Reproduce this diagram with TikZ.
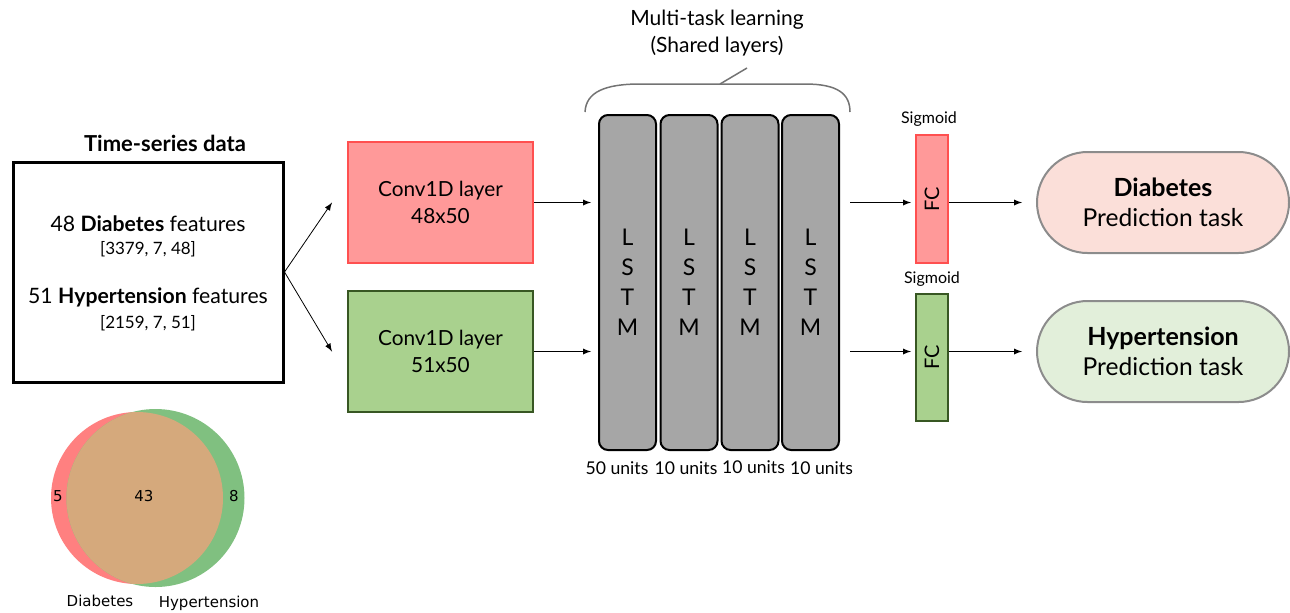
\documentclass[tikz,border=0pt]{standalone}
\usepackage{fontspec}
\setmainfont{Lato}
\newfontfamily\vennfont{DejaVu Sans}
\usetikzlibrary{arrows,positioning,shapes.misc}

\definecolor{convred}{HTML}{FF9999}
\definecolor{convredline}{HTML}{FF5050}
\definecolor{convgreen}{HTML}{A9D18E}
\definecolor{convgreenline}{HTML}{385723}
\definecolor{pillred}{HTML}{FBDFD9}
\definecolor{pillgreen}{HTML}{E2EFDA}
\definecolor{lstmgray}{HTML}{A6A6A6}
\definecolor{vennred}{HTML}{FF8080}
\definecolor{venngreen}{HTML}{80C080}
\definecolor{vennmix}{HTML}{D5A97C}

\tikzset{
  conv/.style={draw,line width=1pt,minimum width=92.5pt,minimum height=60.5pt,inner sep=0pt,align=center,font=\fontsize{10.4}{13.5}\selectfont},
  lstm/.style={draw,fill=lstmgray,line width=1pt,rounded corners=4.5pt,minimum width=28.5pt,minimum height=167.5pt,inner sep=0pt,align=center,font=\fontsize{11.5}{15}\selectfont},
  fc/.style={draw,line width=1pt,minimum width=16pt,inner sep=0pt,font=\fontsize{10}{11}\selectfont},
  task/.style={draw=gray!90,line width=1pt,rounded rectangle,minimum width=126pt,minimum height=50.5pt,inner sep=0pt,align=center,font=\fontsize{12.3}{15}\selectfont},
  lbl/.style={inner sep=0pt,font=\fontsize{8}{9}\selectfont},
  units/.style={inner sep=0pt,font=\fontsize{8.8}{10}\selectfont},
}

\begin{document}
\begin{tikzpicture}[x=0.5pt,y=-0.5pt]
  \useasboundingbox (0,0) rectangle (1290,612);

  % input data
  \node[font=\bfseries\fontsize{11}{12}\selectfont] (title) at (165,143) {Time-series data};
  \node[draw,line width=1.5pt,minimum width=135pt,minimum height=110pt,inner sep=0pt] (data) at (148,272) {};
  \node[font=\fontsize{10.6}{12}\selectfont] (data-1) at (148,224) {48 \textbf{Diabetes} features};
  \node[font=\fontsize{8.5}{10}\selectfont] (dim-1) at (148,249) {[3379, 7, 48]};
  \node[font=\fontsize{10.6}{12}\selectfont] (data-2) at (148,297) {51 \textbf{Hypertension} features};
  \node[font=\fontsize{8.5}{10}\selectfont] (dim-2) at (148,323) {[2159, 7, 51]};

  % venn diagram
  \fill[vennred] (137,498) circle (43pt);
  \fill[venngreen] (155.5,498) circle (44.5pt);
  \begin{scope}
    \clip (137,498) circle (43pt);
    \fill[vennmix] (155.5,498) circle (44.5pt);
  \end{scope}
  \node[font=\vennfont\fontsize{7.5}{8}\selectfont] (v-1) at (58,496) {5};
  \node[font=\vennfont\fontsize{7.5}{8}\selectfont] (v-2) at (144,496) {43};
  \node[font=\vennfont\fontsize{7.5}{8}\selectfont] (v-3) at (234,496) {8};
  \node[font=\vennfont\fontsize{7.5}{9}\selectfont] (v-4) at (100,601) {Diabetes};
  \node[font=\vennfont\fontsize{7.5}{9}\selectfont] (v-5) at (209,603) {Hypertension};

  % conv layers
  \node[conv,fill=convred,draw=convredline] (conv-1) at (440.5,202.5) {Conv1D layer\\48x50};
  \node[conv,fill=convgreen,draw=convgreenline] (conv-2) at (440.5,351.5) {Conv1D layer\\51x50};
  \draw[-latex] (data.east) -- ([xshift=-7.5pt]conv-1.west);
  \draw[-latex] (data.east) -- ([xshift=-7.5pt]conv-2.west);

  % shared lstm layers
  \node[lstm] (lstm-1) at (627.5,282.5) {L\\S\\T\\M};
  \node[lstm] (lstm-2) at (689,282.5) {L\\S\\T\\M};
  \node[lstm] (lstm-3) at (750,282.5) {L\\S\\T\\M};
  \node[lstm] (lstm-4) at (810.5,282.5) {L\\S\\T\\M};
  \node[units] (u-1) at (617,468) {50 units};
  \node[units] (u-2) at (686,468) {10 units};
  \node[units] (u-3) at (753.5,467) {10 units};
  \node[units] (u-4) at (821.5,468) {10 units};
  \draw[-latex,shorten >=3.5pt] (conv-1.east) -- (lstm-1.west |- conv-1.east);
  \draw[-latex,shorten >=3.5pt] (conv-2.east) -- (lstm-1.west |- conv-2.east);

  % brace
  \draw[gray!90!black,line width=0.75pt] (585,112) .. controls (586,92) and (605,84) .. (640,84) -- (805,84) .. controls (838,84) and (850,94) .. (850,112);
  \draw[gray!90!black,line width=0.75pt] (720,84) -- (747,68);
  \node[align=center,font=\fontsize{10.5}{13.5}\selectfont] (mtl) at (717,33) {Multi-task learning\\(Shared layers)};

  % output heads
  \node[fc,fill=convred,draw=convredline,minimum height=64pt] (fc-1) at (932,199) {\rotatebox{90}{FC}};
  \node[fc,fill=convgreen,draw=convgreenline,minimum height=63.5pt] (fc-2) at (932,357.5) {\rotatebox{90}{FC}};
  \node[lbl] (sig-1) at (929,119) {Sigmoid};
  \node[lbl] (sig-2) at (932,279) {Sigmoid};
  \coordinate (out-1) at (850,202.5);
  \coordinate (out-2) at (850,351.5);
  \draw[-latex,shorten >=2pt] (out-1) -- (fc-1.west |- out-1);
  \draw[-latex,shorten >=2pt] (out-2) -- (fc-2.west |- out-2);

  \node[task,fill=pillred] (task-1) at (1163,202.5) {\textbf{\fontsize{12.5}{15}\selectfont Diabetes}\\Prediction task};
  \node[task,fill=pillgreen] (task-2) at (1163,351.5) {\textbf{\fontsize{12.5}{15}\selectfont Hypertension}\\Prediction task};
  \draw[-latex,shorten >=7pt] (fc-1.east |- out-1) -- (task-1.west);
  \draw[-latex,shorten >=7pt] (fc-2.east |- out-2) -- (task-2.west);
\end{tikzpicture}
\end{document}
